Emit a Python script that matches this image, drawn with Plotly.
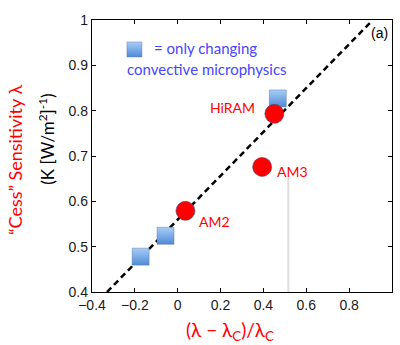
import plotly.graph_objects as go

# Data
model_names = ["AM2", "HiRAM", "AM3"]
model_x = [0.036, 0.451, 0.394]
model_y = [0.579, 0.793, 0.676]

conv_x = [-0.173, -0.057, 0.467]
conv_y = [0.478, 0.524, 0.827]

fit_x = [-0.33, 0.902]
fit_y = [0.40, 0.996]

legend_sq_x = [-0.202]
legend_sq_y = [0.935]

ref_x = [0.516, 0.516]
ref_y = [0.40, 0.652]

xtick_vals = [-0.4, -0.2, 0, 0.2, 0.4, 0.6, 0.8]
xtick_text = ["\u22120.4", "\u22120.2", "0", "0.2", "0.4", "0.6", "0.8"]
ytick_vals = [0.4, 0.5, 0.6, 0.7, 0.8, 0.9, 1.0]
ytick_text = ["0.4", "0.5", "0.6", "0.7", "0.8", "0.9", "1"]

fig = go.Figure()

fig.add_trace(go.Scatter(x=ref_x, y=ref_y, mode="lines",
                         line=dict(color="#dddddd", width=2), hoverinfo="skip"))

fig.add_trace(go.Scatter(x=fit_x, y=fit_y, mode="lines",
                         line=dict(color="black", width=2.5, dash="6px,4px")))

sq_marker = dict(symbol="square", size=17, color="#a9cdf5",
                 gradient=dict(type="vertical", color="#4f8bd8"),
                 line=dict(color="rgba(80,110,160,0.5)", width=0.8))

fig.add_trace(go.Scatter(x=conv_x, y=conv_y, mode="markers", marker=sq_marker))
fig.add_trace(go.Scatter(x=legend_sq_x, y=legend_sq_y, mode="markers",
                         marker=dict(sq_marker, size=15)))

fig.add_trace(go.Scatter(x=model_x, y=model_y, mode="markers",
                         marker=dict(symbol="circle", size=19, color="#ff0000",
                                     line=dict(color="rgba(70,70,110,0.6)", width=1))))

red_font = dict(family="Lato, Open Sans, sans-serif", size=14, color="#ff0000")
blue = "#4646ff"
annotations = [
    dict(x=0.372, y=0.806, text=model_names[1], xanchor="right", yanchor="middle", font=red_font),
    dict(x=0.456, y=0.665, text=model_names[2], xanchor="left", yanchor="middle", font=red_font),
    dict(x=0.088, y=0.555, text=model_names[0], xanchor="left", yanchor="middle", font=red_font),
    dict(x=0.94, y=0.972, text="(a)", xanchor="center", yanchor="middle",
         font=dict(family="Liberation Sans, Arial", size=14, color="black")),
    dict(x=-0.121, y=0.938, text="= only changing", xanchor="left", yanchor="middle",
         font=dict(family="Lato, Open Sans, sans-serif", size=15, color=blue)),
    dict(x=-0.245, y=0.893, text="convective microphysics", xanchor="left", yanchor="middle",
         font=dict(family="Lato, Open Sans, sans-serif", size=15, color=blue)),
    dict(xref="paper", yref="paper", x=-0.257, y=0.485, textangle=-90,
         text="\u201cCess\u201d Sensitivity \u03bb", xanchor="center", yanchor="middle",
         font=dict(family="Lato, Open Sans, sans-serif", size=18, color="#ff0000")),
    dict(xref="paper", yref="paper", x=-0.15, y=0.56, textangle=-90,
         text="(K [W/m<sup>2</sup>]<sup>-1</sup>)", xanchor="center", yanchor="middle",
         font=dict(family="Lato, Open Sans, sans-serif", size=17, color="black")),
    dict(xref="paper", yref="paper", x=0.46, y=-0.145,
         text="(\u03bb \u2212 \u03bb<sub>C</sub>)/\u03bb<sub>C</sub>", xanchor="center", yanchor="middle",
         font=dict(family="Lato, Open Sans, sans-serif", size=19, color="#ff0000")),
]
for a in annotations:
    a.setdefault("showarrow", False)

axis_common = dict(showline=True, linecolor="black", linewidth=1.3, mirror="ticks",
                   ticks="inside", ticklen=4, tickcolor="black", showgrid=False,
                   zeroline=False,
                   tickfont=dict(family="Liberation Sans, Arial", size=14, color="#1a1a1a"))

fig.update_layout(
    width=400, height=345,
    margin=dict(l=92, r=8, t=20, b=53),
    paper_bgcolor="white", plot_bgcolor="white",
    showlegend=False,
    xaxis=dict(axis_common, range=[-0.4, 1.0], tickvals=xtick_vals, ticktext=xtick_text),
    yaxis=dict(axis_common, range=[0.4, 1.0], tickvals=ytick_vals, ticktext=ytick_text),
    annotations=annotations,
)

fig.write_html("out.html")
